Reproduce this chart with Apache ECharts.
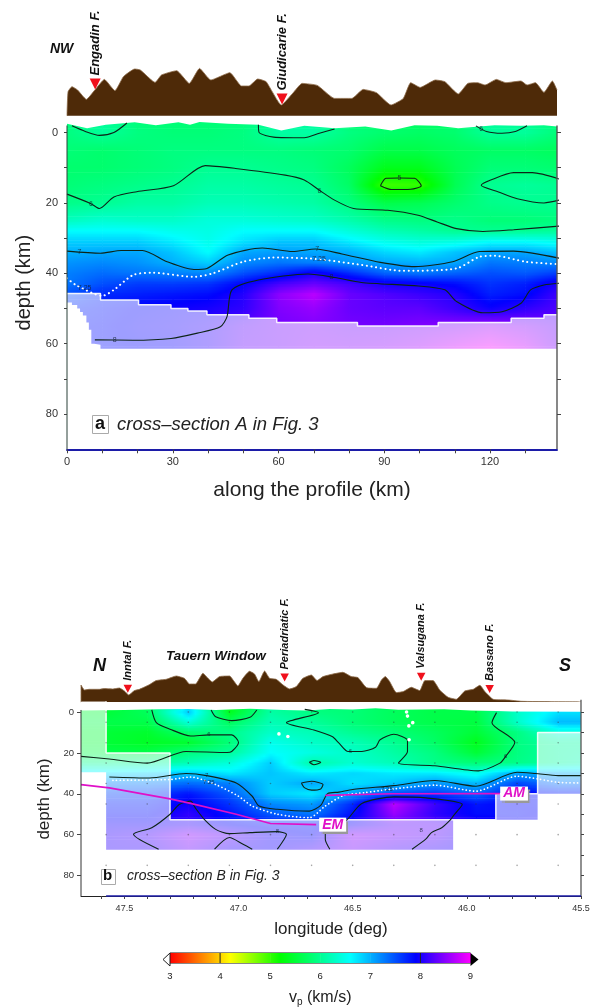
<!DOCTYPE html>
<html><head><meta charset="utf-8">
<style>html,body{margin:0;padding:0;background:#fff}#c{width:595px;height:1008px}</style>
<script src="https://cdn.jsdelivr.net/npm/echarts@6/dist/echarts.min.js"></script>
</head><body><div id="c"></div>
<script>
// ---- colour scale (km/s)
const vpStops = [3, 3.9, 4.2, 5.2, 6.6, 7.9, 9];
const vpColours = [[255,0,0],[255,190,0],[255,255,0],[0,255,0],[0,255,255],[0,0,255],[255,0,255]];
const colourbarTicks = [3,4,5,6,7,8,9];
const colourbarMarks = [4,8];

// ---- Section A
const distA = [0,10,20,30,40,50,60,70,80,90,100,110,120,130,140];
const depthA = [-5,0,5,10,15,20,25,28,31,34,37,40,43,46,50,55,62];
const vpA = [
[5.85,6.05,5.85,5.85,5.85,5.85,6.05,6.05,5.8,5.75,5.75,5.8,6.05,6.0,5.85],
[5.9,6.05,5.9,5.85,5.85,5.9,6.1,6.1,5.9,5.8,5.75,5.8,6.05,6.05,5.85],
[5.85,5.8,5.85,5.9,5.9,5.9,5.9,5.85,5.8,5.6,5.6,5.7,5.75,5.75,5.7],
[5.8,5.8,5.85,5.9,6.0,6.0,5.95,5.9,5.7,5.35,5.35,5.65,5.85,5.85,5.8],
[5.85,5.9,5.95,6.0,6.1,6.1,6.05,6.0,5.75,4.95,5.0,5.65,6.0,6.05,6.0],
[5.95,6.0,6.1,6.1,6.2,6.2,6.15,6.1,5.9,5.6,5.65,5.8,5.95,6.0,6.0],
[6.25,6.35,6.3,6.3,6.4,6.4,6.35,6.3,6.15,5.95,5.9,5.95,5.85,5.85,5.9],
[6.6,6.6,6.6,6.5,6.45,6.6,6.6,6.6,6.4,6.2,6.1,6.0,6.0,6.0,6.05],
[6.85,6.85,6.85,6.7,6.5,6.75,6.9,6.9,6.7,6.5,6.4,6.45,6.6,6.6,6.5],
[7.0,7.05,7.05,6.9,6.6,7.05,7.1,7.05,7.0,6.8,6.7,6.9,7.05,7.05,6.9],
[7.15,7.2,7.15,7.0,6.85,7.2,7.3,7.25,7.15,7.05,7.0,7.05,7.3,7.25,7.2],
[7.25,7.35,7.3,7.25,7.2,7.5,7.7,8.0,7.7,7.4,7.3,7.4,7.5,7.45,7.6],
[7.3,7.5,7.6,7.6,7.65,7.9,8.2,8.35,8.2,8.0,7.95,7.85,7.65,7.75,8.05],
[7.5,7.7,7.75,7.8,7.85,8.05,8.5,8.7,8.35,8.25,8.15,8.05,7.75,7.85,8.2],
[7.7,7.8,7.9,7.95,8.0,8.1,8.45,8.55,8.35,8.3,8.3,8.15,7.95,8.1,8.25],
[7.8,7.85,7.95,8.0,8.1,8.3,8.4,8.45,8.4,8.4,8.45,8.5,8.6,8.5,8.35],
[7.8,7.85,7.9,7.95,8.1,8.35,8.4,8.5,8.5,8.55,8.65,8.85,9.0,8.8,8.4]];
const topoA = [[0,0],[0.3,24],[1.4,29],[3,25.7],[5.5,16.3],[7.9,25.7],[10.6,36.3],[13.6,25],[16,39],[19.2,46.7],[20.8,45.7],[25,33.3],[26.8,40.7],[31.1,45],[34.7,32.3],[37.6,47.3],[40.8,35.7],[46.2,43],[49.5,29.7],[51.6,29.7],[54.1,36.7],[56.5,34],[60.8,10.7],[64,22.3],[66.7,32.3],[71,30.3],[75.9,17.3],[80.8,17.3],[84,26.3],[87.8,23],[91.9,10.7],[95.4,17.3],[97.5,33],[100.2,28.3],[104.5,35.7],[107.2,34],[111,21.7],[113.7,32.3],[116.4,33],[118.6,30.7],[121.8,36.3],[124.5,33],[128.8,34.7],[130.5,30.7],[132.9,33],[135.3,23.3],[137.7,34.7],[139,25.7]];
const faultsA = [{name:'Engadin F.',value:[8,31.7]},{name:'Giudicarie F.',value:[61,16.7]}];
const topEdgeA = [[0,-2.5],[5.7,-1.2],[11,-2.2],[19.2,-2.9],[25.2,-2.1],[31.6,-2.9],[34.9,-2.2],[37.6,-3],[45.7,-2.5],[54.3,-2.2],[60.8,-0.6],[67.3,-1.9],[75.9,-1.2],[84.6,-1.7],[92,-0.6],[98.6,-2.1],[105,-1.9],[111,-1.2],[121.3,-2.1],[128.8,-1.9],[135.3,-2.1],[139,-1.7]];
const resolvedA = [[0,45.7],[9.5,45.7],[9.5,47.6],[20.3,47.6],[20.3,48.9],[29.5,48.9],[29.5,50],[34.3,50],[34.3,50.7],[39.7,50.7],[39.7,51.8],[51.6,51.8],[51.6,52.8],[59.5,52.8],[59.5,54],[82.4,54],[82.4,55],[105.3,55],[105.3,54],[126,54],[126,52.8],[135.3,52.8],[135.3,51.8],[139,51.8]];
const outsideA = [[0,48.3],[1.4,48.3],[1.4,49],[2.9,49],[2.9,50],[3.7,50],[3.7,51],[4.5,51],[4.5,52],[5.5,52],[5.5,54],[6.2,54],[6.2,56],[6.9,56],[6.9,60],[7.7,60],[7.7,60.3],[9.5,60.3],[9.5,61.4],[139,61.4]];
const contoursA = [
[[1.4,-1.9],[5.2,-0.3],[9.2,0.8],[13.3,0],[17,-2.7]],
[[54.3,-2.2],[54.5,0],[58.6,1.3],[67.3,1.5],[71.6,0.2],[75.9,-1]],
[[116,-1.9],[119,-0.3],[123.4,0.2],[127.2,-0.3],[130.5,-1.9]],
[[0,17.5],[6.8,20.2],[9.2,21.6],[13.3,18.3],[19.8,16.8],[30.2,15.1],[39.2,9.4],[47.8,10.2],[61.9,12.1],[67.3,13.5],[71.6,16.4],[75.9,19.2],[81.3,21.6],[91,22.1],[99.6,23.5],[105,25.4],[110.5,27.3],[118,28.1],[126.7,27.6],[139.6,26.6]],
[[88.9,15.1],[90.5,13],[94.3,12.9],[98.6,13],[100.5,15.1],[97.5,16.1],[92.1,16.2],[88.9,15.1]],
[[139.6,13.2],[132,11.4],[126.7,11.4],[120.2,13.5],[117.5,15],[122.4,16.9],[127.7,18.8],[135.3,20],[139.6,19.2]],
[[0,33.7],[9.5,34.3],[15.4,33.5],[21.4,33.5],[28.4,36.7],[36,38.9],[39.7,38.6],[45.7,34.8],[55.4,32.8],[64,33.8],[70.5,33.1],[78,34.5],[88.9,36.9],[98.6,38.1],[109.4,36.7],[117,33.8],[126.7,33.7],[139.6,35.7]],
[[7.9,58.9],[18.7,59],[29.5,58.5],[37,57],[43.5,55.2],[45.4,52.3],[46.8,44.7],[54.3,41.9],[68.4,40.2],[76,41.2],[83.5,42.6],[99.7,43.6],[107.2,44.7],[110.5,48],[118,51.2],[123.4,50.9],[128.8,48.5],[131.5,44.7],[135.3,43.3],[139.6,42.8]]];
const moho725A = [[0,41.4],[2.5,43.3],[10,46.4],[13.3,44.7],[18.7,40.5],[24,39.8],[36,41],[41.4,40],[50,36.7],[58.6,35.5],[70.5,35.9],[83.5,37.6],[95.4,39.3],[110.5,38.6],[117,35.3],[121.3,35],[130,36.7],[139.6,37.4]];
const contourLabelsA = [[6.8,20.2,'6'],[71.6,16.6,'6'],[117.5,-1,'6'],[94.3,12.9,'5'],[3.5,34,'7'],[71,33,'7'],[71.5,35.9,'7.25'],[5,44.3,'7.25'],[13.5,59,'8'],[75,41,'8']];

// ---- Section B
const lonB = [47.69,47.58,47.40,47.22,47.04,46.86,46.68,46.50,46.32,46.14,45.96,45.78,45.60,45.5];
const depthB = [-6,0,5,10,15,20,25,30,35,40,45,50,55,60,68];
const vpB = [
[5.5,5.5,5.7,6.3,5.35,6.1,5.9,5.85,5.7,5.6,5.6,6.3,6.6,6.6],
[5.5,5.5,5.7,6.9,5.35,6.1,5.9,5.85,5.7,5.6,5.6,6.3,6.75,6.75],
[5.6,5.6,5.6,6.4,5.7,6.2,6.05,5.85,5.7,5.6,5.55,6.3,6.95,6.95],
[5.5,5.5,5.45,5.8,5.95,6.3,6.2,6.0,5.85,5.7,5.5,5.9,6.4,6.4],
[5.5,5.5,5.4,5.45,5.85,6.5,6.3,6.2,6.0,5.75,5.35,5.9,6.1,6.1],
[5.6,5.6,5.6,5.9,6.05,6.6,6.45,6.3,6.1,5.9,5.5,5.9,6.1,6.15],
[6.0,6.0,6.05,6.2,6.4,6.85,6.1,6.35,6.2,5.95,5.85,5.95,6.1,6.2],
[6.75,6.75,6.8,6.9,6.7,6.9,6.7,6.8,6.7,6.7,6.5,7.05,7.0,6.95],
[7.25,7.25,7.25,7.35,7.25,6.85,7.05,6.75,6.9,7.15,6.95,7.55,7.3,7.3],
[7.55,7.55,7.6,7.8,7.45,6.85,6.7,7.1,7.5,7.6,7.35,7.9,7.8,7.8],
[7.75,7.75,7.75,7.95,7.65,7.2,7.1,7.7,8.7,8.15,7.8,7.9,7.8,7.8],
[7.85,7.85,7.85,8.1,7.8,7.45,7.3,7.85,8.55,8.1,7.85,7.85,8.0,8.0],
[8.0,8.0,8.0,8.1,7.9,7.8,7.8,8.0,8.3,8.3,8.1,8.0,8.0,8.0],
[8.1,8.1,8.2,8.5,8.3,8.0,7.9,8.5,8.4,8.3,8.0,8.0,8.0,8.0],
[8.1,8.1,8.1,8.35,8.05,8.0,8.2,8.4,8.2,8.1,8.0,8.0,8.0,8.0]];
const topoB = [[47.69,0],[47.69,17.3],[47.675,12.3],[47.653,13],[47.631,13],[47.609,13],[47.587,13.7],[47.551,13.3],[47.522,14.3],[47.5,11.3],[47.481,7.3],[47.456,11.7],[47.434,13],[47.39,17.7],[47.361,21.7],[47.317,23],[47.273,26.3],[47.237,24],[47.215,18.3],[47.188,18.3],[47.156,29],[47.134,24],[47.115,20.3],[47.083,25.7],[47.039,26.3],[47.022,21.7],[47.003,16.3],[46.981,24],[46.952,31],[46.93,28.3],[46.911,20.7],[46.886,31.3],[46.864,24],[46.835,23],[46.805,17.3],[46.776,13.3],[46.747,15.7],[46.718,24],[46.681,27.3],[46.656,21.7],[46.63,25.7],[46.586,28.3],[46.543,30],[46.506,25.7],[46.477,24.7],[46.44,14.7],[46.396,14],[46.374,22.3],[46.357,25.7],[46.338,20.7],[46.309,9.7],[46.279,10.7],[46.243,15],[46.221,13],[46.206,11.7],[46.184,21.7],[46.148,21.7],[46.119,12.3],[46.082,5],[46.046,3],[46.009,11.3],[45.972,13],[45.943,17],[45.921,10.7],[45.885,3],[45.819,2.3],[45.76,1],[45.687,0.7],[45.5,0.3]];
const faultsB = [{name:'Inntal F.',value:[47.485,13.6]},{name:'Periadriatic F.',value:[46.798,24.8]},{name:'Valsugana F.',value:[46.2,25.6]},{name:'Bassano F.',value:[45.9,13.3]}];
const topEdgeB = [[47.69,-0.7],[47.5,-1],[47.35,-1.3],[47.22,-1.5],[47.1,-1],[46.95,-1.6],[46.8,-1],[46.7,-0.8],[46.6,-1.5],[46.5,-1.2],[46.4,-1.8],[46.3,-1.1],[46.2,-1.2],[46.1,-1.4],[45.98,-0.7],[45.87,-0.5],[45.8,-0.2],[45.5,-0.1]];
const resolvedB = [[47.69,-6],[47.58,-6],[47.58,20],[47.3,20],[47.3,52.7],[45.873,52.7],[45.873,40],[45.69,40],[45.69,10],[45.5,10]];
const outsideB = [[47.69,29.5],[47.58,29.5],[47.58,67.4],[46.06,67.4],[46.06,52.7],[45.69,52.7],[45.69,40],[45.5,40]];
const contoursB = [
[[47.69,21.7],[47.566,23],[47.40,25],[47.23,19.3],[47.05,19.8],[47.03,19.3],[47.0,14.9],[47.03,11.2],[47.13,11.2],[47.21,11.7],[47.30,8.4],[47.36,5.2],[47.38,-1]],
[[47.12,-1],[47.10,2.3],[47.03,4.2],[46.95,2.6],[46.92,-1]],
[[46.71,-1.3],[46.65,0.3],[46.79,5.2],[46.67,8.8],[46.59,12],[46.56,15.2],[46.52,19.3],[46.46,19.3],[46.40,17.2],[46.38,13.6],[46.32,10.9],[46.26,13.9],[46.26,19.3],[46.30,25],[46.14,26.3],[45.95,28.8],[45.855,25],[45.83,21.7],[45.79,14.9],[45.89,5.2],[45.87,0.3]],
[[46.69,24.6],[46.67,23.7],[46.64,24.6],[46.67,25.8],[46.69,24.6]],
[[47.566,31.8],[47.39,32.3],[47.23,30.1],[47.14,31.1],[47.01,34.7],[46.94,41.2],[46.91,46],[46.83,47.6],[46.69,48.5],[46.64,45.7],[46.61,39.9],[46.56,39.2],[46.5,37.9],[46.32,36],[46.14,33.5],[45.96,36.3],[45.78,29.5],[45.70,30.1],[45.6,31.1],[45.5,31.1]],
[[46.725,34.7],[46.68,33.9],[46.63,35.5],[46.64,37.6],[46.68,38.2],[46.71,37.1],[46.725,34.7]],
[[47.35,67.1],[47.46,59.8],[47.38,56.6],[47.3,50],[47.26,45.2],[47.21,43.6],[47.19,46.8],[47.15,52.5],[47.10,57.4],[47.04,59.5],[46.95,59],[46.83,58.5],[46.79,59.8],[46.8,62.2],[46.83,67.1]],
[[47.105,67.1],[47.04,61.4],[46.98,64.7],[46.94,67.1]],
[[46.6,67.1],[46.62,62.2],[46.62,59],[46.54,54.1],[46.52,52.2],[46.46,44.7],[46.32,41.5],[46.18,42],[46.02,45.2],[46.06,50.9],[46.07,52.5],[46.11,56.6],[46.155,59],[46.18,62.2],[46.24,67.1]]];
const moho725B = [[47.55,33.4],[47.3,33],[47.21,31.8],[47.1,35.5],[47,41.2],[46.94,46],[46.83,50],[46.69,51.7],[46.62,46],[46.54,40.8],[46.45,39.5],[46.32,37.6],[46.14,35.8],[45.96,38.7],[45.78,31.4],[45.69,32.7],[45.6,34.4],[45.5,34.7]];
const contourLabelsB = [[47.13,11,'6'],[46.51,19.3,'6'],[45.83,21.7,'6'],[46.83,58.5,'8'],[46.2,58,'8'],[47.14,31,'7'],[47.13,34.2,'7.25'],[46.35,38,'7.25']];
const emLine = [[47.69,35.5],[47.566,37.1],[47.3,42.5],[47.21,44.7],[47.01,50],[46.86,54.5],[46.66,55.1]];
const amLine = [[46.62,40.8],[46.33,40],[45.855,39.9]];
const hypocentresB = [[46.823,10.7],[46.784,12],[46.264,0],[46.26,2],[46.254,6.8],[46.237,5.2],[46.253,13.6]];
const nodeLons = [47.58,47.40,47.22,47.04,46.86,46.68,46.50,46.32,46.14,45.96,45.78,45.60];
const nodeDepths = [0,5,15,25,35,45,60,75];

// ---- axis ticks
const tickDepths = [0,10,20,30,40,50,60,70,80];
const labelDepths = [0,20,40,60,80];
const tickDistA = [0,10,20,30,40,50,60,70,80,90,100,110,120,130];
const labelDistA = [0,30,60,90,120];
const tickLonB = [45.5,45.6,45.7,45.8,45.9,46,46.1,46.2,46.3,46.4,46.5,46.6,46.7,46.8,46.9,47,47.1,47.2,47.3,47.4,47.5,47.6];
const labelLonB = [45.5,46,46.5,47,47.5];

// ---- helpers
function vpColour(v){
  v=Math.max(3,Math.min(9,v));
  let k=0; while(k<vpStops.length-2 && v>vpStops[k+1]) k++;
  const t=(v-vpStops[k])/(vpStops[k+1]-vpStops[k]), a=vpColours[k], b=vpColours[k+1];
  return 'rgb('+a.map((c,n)=>Math.round(c+(b[n]-c)*t)).join(',')+')';
}
function fieldSeries(xs,ds,vals,xi,yi){
  const data=[];
  for(let j=0;j<ds.length-1;j++)for(let i=0;i<xs.length-1;i++)data.push([xs[i],ds[j],vals[j][i],i,j]);
  return {type:'custom',xAxisIndex:xi,yAxisIndex:yi,clip:true,silent:true,z:1,animation:false,data,encode:{x:0,y:1},
    renderItem(p,api){
      const i=api.value(3),j=api.value(4);
      const a=api.coord([xs[i],ds[j]]),b=api.coord([xs[i+1],ds[j+1]]);
      const flip=b[0]<a[0],L=Math.min(a[0],b[0]),W=Math.abs(b[0]-a[0]),T=a[1],H=b[1]-a[1];
      const n=Math.max(1,Math.round(H/1.5)),ch=[];
      for(let k=0;k<n;k++){
        const t=(k+.5)/n;
        const v0=vals[j][i]+(vals[j+1][i]-vals[j][i])*t, v1=vals[j][i+1]+(vals[j+1][i+1]-vals[j][i+1])*t;
        const stops=[];
        for(let s=0;s<=6;s++){const u=s/6;stops.push({offset:u,color:vpColour(flip?v1+(v0-v1)*u:v0+(v1-v0)*u)});}
        ch.push({type:'rect',shape:{x:L,y:T+H*k/n,width:W+.6,height:H/n+.7},style:{fill:{type:'linear',x:0,y:0,x2:1,y2:0,colorStops:stops}}});
      }
      return {type:'group',children:ch};
    }};
}
const line=(data,xi,yi,o)=>Object.assign({type:'line',xAxisIndex:xi,yAxisIndex:yi,data,symbol:'none',silent:true,animation:false,z:3},o);
const contourStyle={color:'#0d2418',width:1.1};
function contourSeries(list,xi,yi){return list.map(c=>line(c,xi,yi,{smooth:.25,lineStyle:contourStyle,z:4}));}
function labelSeries(list,xi,yi,fs){return {type:'scatter',xAxisIndex:xi,yAxisIndex:yi,data:list,symbolSize:0,silent:true,animation:false,z:5,
  label:{show:true,position:'inside',formatter:p=>p.value[2],fontSize:fs,color:'#123',fontFamily:'Liberation Sans'}};}
function faultSeries(list,xi,yi,size,fs,dist){return {type:'scatter',xAxisIndex:xi,yAxisIndex:yi,data:list,symbol:'triangle',symbolRotate:180,symbolSize:size,
  itemStyle:{color:'#f0101c',opacity:1},silent:true,animation:false,z:6,clip:false,
  label:{show:true,position:'top',rotate:90,align:'left',verticalAlign:'middle',distance:dist,formatter:'{b}',fontFamily:'Liberation Sans',fontStyle:'italic',fontWeight:'bold',fontSize:fs,color:'#111'}};}
const topoStyle={symbol:'none',smooth:.15,lineStyle:{color:'#8c6a48',width:.8},areaStyle:{color:'#4e2a08',opacity:1,origin:'start'},z:2};
const tickStyle={lineStyle:{color:'#444',width:1}};
const fmtInt=v=>String(v);
const lblBase={color:'#333',fontFamily:'Liberation Sans',margin:7};
const nodes=[];nodeLons.forEach(x=>nodeDepths.forEach(d=>nodes.push([x,d])));
const boxLabel=(t,dx)=>({show:true,formatter:t,distance:1,offset:[dx,0],color:'#e010c8',fontFamily:'Liberation Sans',fontStyle:'italic',fontWeight:'bold',fontSize:14,backgroundColor:'#fff',padding:[0,3],shadowColor:'#999',shadowOffsetX:2,shadowOffsetY:2,shadowBlur:1});

const option={animation:false,backgroundColor:'#fff',textStyle:{fontFamily:'Liberation Sans'},
grid:[
 {left:67,width:490,top:66,height:49.7},
 {left:67,width:490,top:116,height:333.3},
 {left:81,width:500,top:650,height:52.3},
 {left:81,width:500,top:702,height:194},
 {left:170,width:300.5,top:953,height:13,show:true,borderColor:'#111',borderWidth:1,backgroundColor:'transparent'}],
xAxis:[
 {gridIndex:0,type:'value',min:0,max:139,show:false},
 {gridIndex:1,type:'value',min:0,max:139,z:7,axisLine:{onZero:false,lineStyle:{color:'#1c1ca8',width:2}},
  axisTick:{customValues:tickDistA,length:4,...tickStyle},axisLabel:{customValues:labelDistA,fontSize:11,formatter:fmtInt,...lblBase},splitLine:{show:false},
  name:'along the profile (km)',nameLocation:'middle',nameGap:30,nameTextStyle:{fontSize:21,color:'#222',fontFamily:'Liberation Sans'}},
 {gridIndex:2,type:'value',min:45.5,max:47.69,inverse:true,show:false},
 {gridIndex:3,type:'value',min:45.5,max:47.69,inverse:true,z:7,axisLine:{onZero:false,lineStyle:{color:'#222',width:1}},
  axisTick:{customValues:tickLonB,length:3,...tickStyle},axisLabel:{customValues:labelLonB,fontSize:9,formatter:v=>v.toFixed(1),...lblBase,margin:8},splitLine:{show:false},
  name:'longitude (deg)',nameLocation:'middle',nameGap:25,nameTextStyle:{fontSize:17,color:'#222',fontFamily:'Liberation Sans'}},
 {gridIndex:4,type:'value',min:3,max:9,interval:1,z:7,axisLine:{show:false},axisTick:{show:false},splitLine:{show:false},
  axisLabel:{fontSize:9.5,color:'#222',margin:8,fontFamily:'Liberation Sans'},
  name:'v{s|p} (km/s)',nameLocation:'middle',nameGap:26,nameTextStyle:{fontSize:16,color:'#222',fontFamily:'Liberation Sans',rich:{s:{fontSize:10,verticalAlign:'bottom',padding:[8,0,0,0],color:'#222'}}}}],
yAxis:[
 {gridIndex:0,type:'value',min:0,max:49.7,show:false},
 {gridIndex:1,type:'value',min:-4.7,max:90,inverse:true,z:7,axisLine:{show:false},axisTick:{customValues:tickDepths,length:3,...tickStyle},
  axisLabel:{customValues:labelDepths,fontSize:11,formatter:fmtInt,...lblBase,margin:9},splitLine:{show:false},
  name:'depth (km)',nameLocation:'middle',nameGap:30,nameTextStyle:{fontSize:20,color:'#222',fontFamily:'Liberation Sans'}},
 {gridIndex:1,type:'value',min:-4.7,max:90,inverse:true,position:'right',z:7,axisLine:{show:false},axisTick:{customValues:tickDepths,length:4,...tickStyle},axisLabel:{show:false},splitLine:{show:false}},
 {gridIndex:2,type:'value',min:0,max:52.3,show:false},
 {gridIndex:3,type:'value',min:-4.9,max:90,inverse:true,z:7,axisLine:{show:false},axisTick:{customValues:labelDepths,length:4,...tickStyle},
  axisLabel:{customValues:labelDepths,fontSize:9.5,formatter:fmtInt,...lblBase,margin:7},splitLine:{show:false},
  name:'depth (km)',nameLocation:'middle',nameGap:25,nameTextStyle:{fontSize:17,color:'#222',fontFamily:'Liberation Sans'}},
 {gridIndex:3,type:'value',min:-4.9,max:90,inverse:true,position:'right',z:7,axisLine:{show:false},axisTick:{customValues:tickDepths,length:3,...tickStyle},axisLabel:{show:false},splitLine:{show:false}},
 {gridIndex:4,type:'value',min:0,max:1,show:false}],
series:[
 line(topoA,0,0,topoStyle),
 faultSeries(faultsA,0,0,[11,11],13,3),
 fieldSeries(distA,depthA,vpA,1,1),
 line(resolvedA,1,1,{lineStyle:{color:'rgba(255,255,255,.9)',width:1.5},areaStyle:{color:'#fff',opacity:.62,origin:'end'},z:2}),
 line(outsideA,1,1,{lineStyle:{width:0},areaStyle:{color:'#fff',opacity:1,origin:'end'},z:3}),
 line(topEdgeA,1,1,{lineStyle:{width:0},areaStyle:{color:'#fff',opacity:1,origin:'start'},z:3}),
 ...contourSeries(contoursA,1,1),
 line(moho725A,1,1,{smooth:.25,lineStyle:{color:'#fff',width:2,type:[0.1,4.6],cap:'round'},z:4}),
 labelSeries(contourLabelsA,1,1,7),
 line([[0,-2],[0,90]],1,1,{clip:false,lineStyle:{color:'#2a4038',width:1},z:6}),
 line([[139,-2],[139,90]],1,1,{clip:false,lineStyle:{color:'#555',width:1.4},z:6}),

 line(topoB,2,3,topoStyle),
 faultSeries(faultsB,2,3,[8.5,8],11,4),
 fieldSeries(lonB,depthB,vpB,3,4),
 line(resolvedB,3,4,{lineStyle:{color:'rgba(255,255,255,.9)',width:1.5},areaStyle:{color:'#fff',opacity:.6,origin:'end'},z:2}),
 line(outsideB,3,4,{lineStyle:{width:0},areaStyle:{color:'#fff',opacity:1,origin:'end'},z:3}),
 line(topEdgeB,3,4,{lineStyle:{width:0},areaStyle:{color:'#fff',opacity:1,origin:'start'},z:3}),
 {type:'scatter',xAxisIndex:3,yAxisIndex:4,data:nodes,symbolSize:1.6,itemStyle:{color:'#333',opacity:.45},silent:true,animation:false,z:4},
 ...contourSeries(contoursB,3,4),
 line(moho725B,3,4,{smooth:.25,lineStyle:{color:'#fff',width:1.7,type:[0.1,3.6],cap:'round'},z:4}),
 labelSeries(contourLabelsB,3,4,6),
 {type:'scatter',xAxisIndex:3,yAxisIndex:4,data:hypocentresB,symbolSize:3.6,itemStyle:{color:'#fff',opacity:1},silent:true,animation:false,z:5},
 line(emLine,3,4,{lineStyle:{color:'#e010c8',width:1.6},z:6,endLabel:boxLabel('EM',31)}),
 line(amLine,3,4,{lineStyle:{color:'#e010c8',width:1.6},z:6,endLabel:boxLabel('AM',29)}),
 line([[47.69,-1],[47.69,90]],3,4,{clip:false,lineStyle:{color:'#333',width:1},z:6}),
 line([[45.5,-6],[45.5,90]],3,4,{clip:false,lineStyle:{color:'#555',width:1.3},z:6}),
 line([[47.58,90],[45.5,90]],3,4,{clip:false,lineStyle:{color:'#1c1ca8',width:1.6},z:8}),

 {type:'custom',xAxisIndex:4,yAxisIndex:6,silent:true,animation:false,z:2,data:colourbarTicks.slice(0,-1).map((v,i)=>[v,0,i]),encode:{x:0,y:1},
  renderItem(p,api){
   const i=api.value(2),a=api.coord([colourbarTicks[i],1]),b=api.coord([colourbarTicks[i+1],0]),stops=[];
   for(let s=0;s<=10;s++)stops.push({offset:s/10,color:vpColour(colourbarTicks[i]+s/10*(colourbarTicks[i+1]-colourbarTicks[i]))});
   return {type:'rect',shape:{x:a[0],y:a[1],width:b[0]-a[0]+.5,height:b[1]-a[1]},style:{fill:{type:'linear',x:0,y:0,x2:1,y2:0,colorStops:stops}}};
  }},
 {type:'custom',xAxisIndex:4,yAxisIndex:6,silent:true,animation:false,z:3,data:colourbarMarks.map(v=>[v,0]),encode:{x:0,y:1},
  renderItem(p,api){const a=api.coord([api.value(0),1]),b=api.coord([api.value(0),0]);
   return {type:'line',shape:{x1:a[0],y1:a[1],x2:b[0],y2:b[1]},style:{stroke:'#222',lineWidth:1}};}}
],
graphic:[
 {type:'text',left:50,top:42,z:20,style:{text:'NW',font:'italic bold 14px "Liberation Sans"',fill:'#111'}},
 {type:'rect',left:92,top:415,z:20,shape:{width:16,height:18},style:{fill:'#fff',stroke:'#aaa',lineWidth:1}},
 {type:'text',left:95,top:415,z:21,style:{text:'a',font:'bold 18px "Liberation Sans"',fill:'#111'}},
 {type:'text',left:117,top:415,z:20,style:{text:'cross\u2013section A in Fig. 3',font:'italic 18.5px "Liberation Sans"',fill:'#222'}},
 {type:'text',left:93,top:657,z:20,style:{text:'N',font:'italic bold 18px "Liberation Sans"',fill:'#111'}},
 {type:'text',left:559,top:657,z:20,style:{text:'S',font:'italic bold 18px "Liberation Sans"',fill:'#111'}},
 {type:'text',left:166,top:649,z:20,style:{text:'Tauern Window',font:'italic bold 13.5px "Liberation Sans"',fill:'#111'}},
 {type:'rect',left:101,top:869,z:20,shape:{width:14,height:15},style:{fill:'#fff',stroke:'#aaa',lineWidth:1}},
 {type:'text',left:103,top:868,z:21,style:{text:'b',font:'bold 15px "Liberation Sans"',fill:'#111'}},
 {type:'text',left:127,top:869,z:20,style:{text:'cross\u2013section B in Fig. 3',font:'italic 14px "Liberation Sans"',fill:'#222'}},
 {type:'polygon',z:20,shape:{points:[[170,953],[170,966],[163,959.5]]},style:{fill:'#fff',stroke:'#222',lineWidth:1}},
 {type:'polygon',z:20,shape:{points:[[470.5,953],[470.5,966],[478.5,959.5]]},style:{fill:'#000'}}
]};
echarts.init(document.getElementById('c'),null,{renderer:'canvas'}).setOption(option);
</script></body></html>
